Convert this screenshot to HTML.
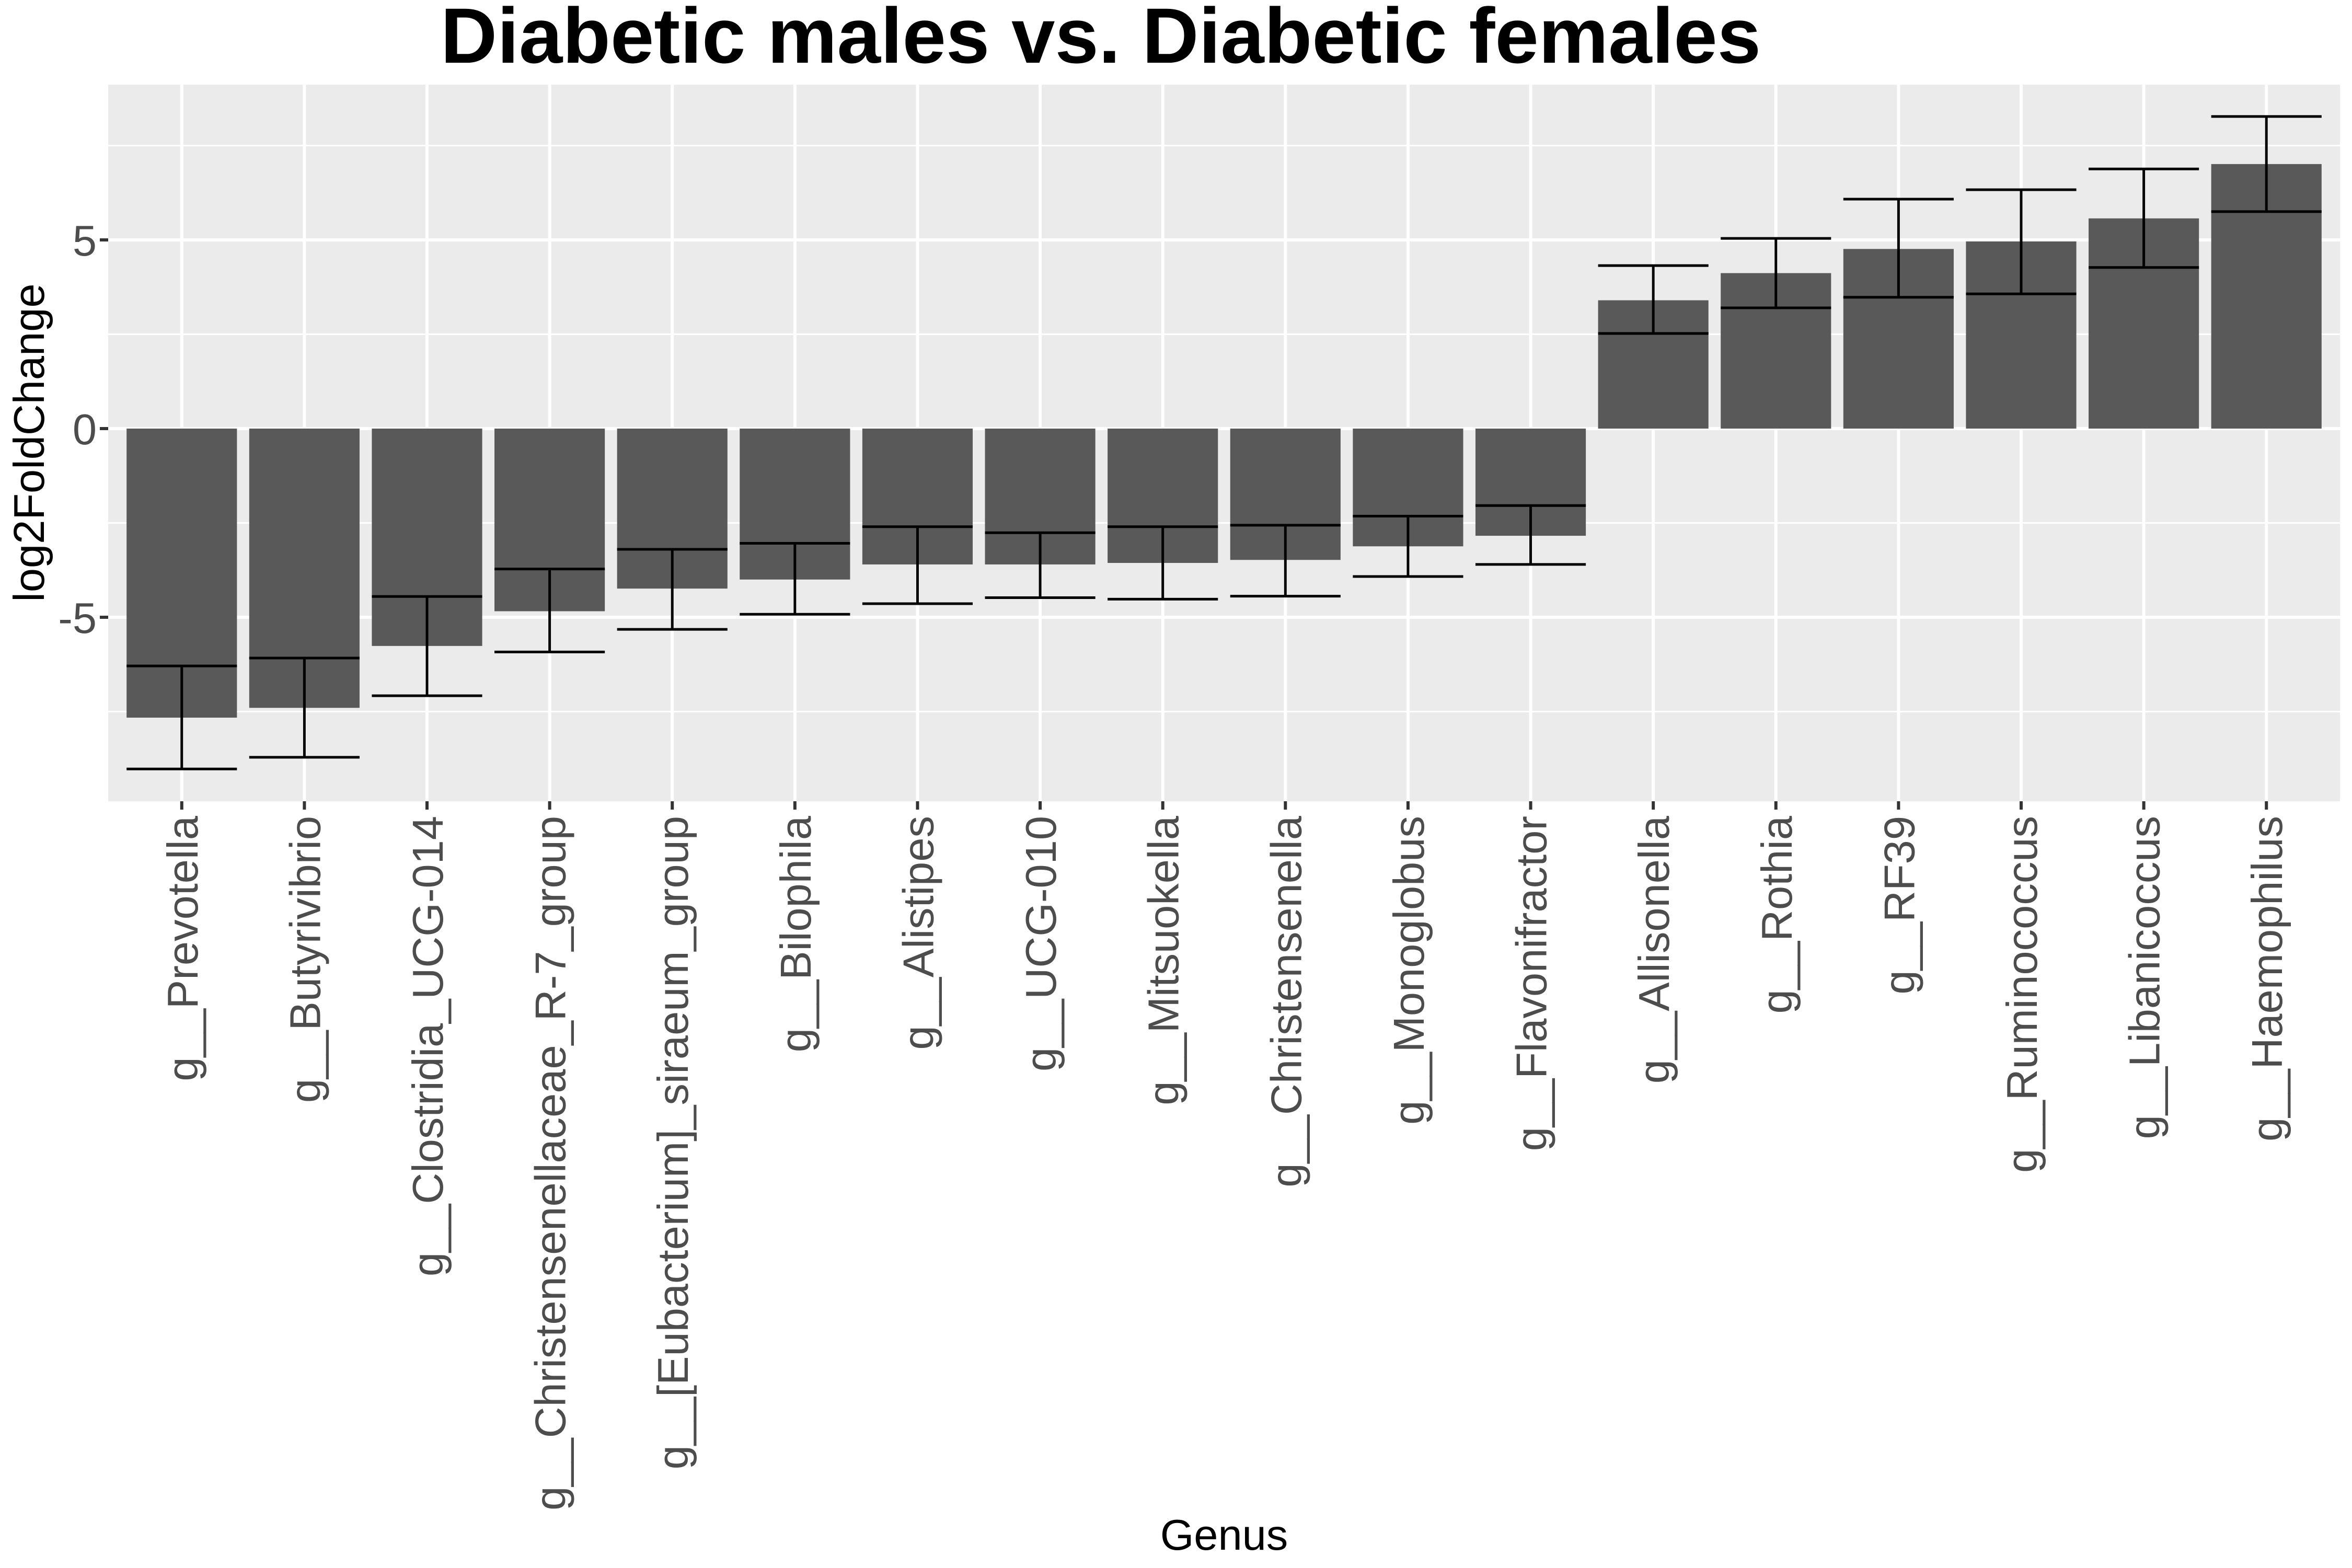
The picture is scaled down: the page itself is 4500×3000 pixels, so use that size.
<!DOCTYPE html>
<html><head><meta charset="utf-8"><style>
html,body{margin:0;padding:0;background:#fff;}
svg{display:block;font-family:"Liberation Sans",Arial,sans-serif;}
</style></head><body>
<svg id="chart" width="4500" height="3000" viewBox="0 0 4500 3000" xmlns="http://www.w3.org/2000/svg">
<text x="2106" y="120" text-anchor="middle" font-size="150" font-weight="bold" fill="#000">Diabetic males vs. Diabetic females</text>
<rect x="207" y="162" width="4270" height="1371" fill="#ebebeb"/>
<g id="grid"></g>
<g id="bars"></g>
<g id="errs"></g>
<g id="yaxis"></g>
<g id="xaxis"></g>
<text transform="translate(84,847) rotate(-90)" text-anchor="middle" font-size="83" fill="#000">log2FoldChange</text>
<text x="2342" y="2965" text-anchor="middle" font-size="83" fill="#000">Genus</text>
</svg>
<script>
const categories = ["g__Prevotella","g__Butyrivibrio","g__Clostridia_UCG-014","g__Christensenellaceae_R-7_group","g__[Eubacterium]_siraeum_group","g__Bilophila","g__Alistipes","g__UCG-010","g__Mitsuokella","g__Christensenella","g__Monoglobus","g__Flavonifractor","g__Allisonella","g__Rothia","g__RF39","g__Ruminococcus","g__Libanicoccus","g__Haemophilus"];
const values = [-7.66,-7.40,-5.76,-4.84,-4.24,-4.0,-3.6,-3.6,-3.56,-3.48,-3.12,-2.84,3.4,4.12,4.76,4.96,5.57,7.01];
const errUpper = [-6.29,-6.08,-4.45,-3.72,-3.2,-3.04,-2.6,-2.76,-2.6,-2.56,-2.32,-2.04,4.32,5.04,6.08,6.33,6.88,8.27];
const errLower = [-9.02,-8.71,-7.08,-5.92,-5.32,-4.92,-4.64,-4.48,-4.52,-4.44,-3.92,-3.6,2.52,3.2,3.48,3.57,4.27,5.75];
const yMajor = [-5,0,5];
const yMinor = [-7.5,-2.5,2.5,7.5];
const yTickLabels = ["-5","0","5"];

const NS="http://www.w3.org/2000/svg";
const PL=207, PR=4477, PT=162, PB=1533;
const Y0=820, PPU=72.2;
const y = v => Y0 - v*PPU;
const step = (PR-PL)/(categories.length-1+1.2);
const x = i => PL + step*0.6 + i*step;
const bw = step*0.9;
function mk(tag, parent, attrs){const e=document.createElementNS(NS,tag);for(const k in attrs)e.setAttribute(k,attrs[k]);parent.appendChild(e);return e;}
const grid=document.getElementById('grid'), bars=document.getElementById('bars'), errs=document.getElementById('errs'), ya=document.getElementById('yaxis'), xa=document.getElementById('xaxis');
yMinor.forEach(v=>{const l=mk('line',grid,{x1:PL,x2:PR,y1:y(v),y2:y(v),stroke:'#fff','stroke-width':3});

});
yMajor.forEach((v,i)=>{const l=mk('line',grid,{x1:PL,x2:PR,y1:y(v),y2:y(v),stroke:'#fff','stroke-width':6});


const t=mk('line',ya,{x1:PL-16,x2:PL,y1:y(v),y2:y(v),stroke:'#333','stroke-width':6});


const tx=mk('text',ya,{x:PL-22,y:y(v)+30,'text-anchor':'end','font-size':83,fill:'#4d4d4d'});tx.textContent=yTickLabels[i];

});
categories.forEach((c,i)=>{
const cx=x(i);
const g=mk('line',grid,{x1:cx,x2:cx,y1:PT,y2:PB,stroke:'#fff','stroke-width':6});


const v=values[i];
const r=mk('rect',bars,{x:cx-bw/2,width:bw,y:Math.min(y(0),y(v)),height:Math.abs(y(v)-y(0)),fill:'#595959'});


const eg=mk('g',errs,{stroke:'#000','stroke-width':5});


mk('line',eg,{x1:cx,x2:cx,y1:y(errUpper[i]),y2:y(errLower[i])});
mk('line',eg,{x1:cx-bw/2,x2:cx+bw/2,y1:y(errUpper[i]),y2:y(errUpper[i])});
mk('line',eg,{x1:cx-bw/2,x2:cx+bw/2,y1:y(errLower[i]),y2:y(errLower[i])});
const t=mk('line',xa,{x1:cx,x2:cx,y1:PB,y2:PB+16,stroke:'#333','stroke-width':6});


const tx=mk('text',xa,{transform:`translate(${cx+30},${PB+28}) rotate(-90)`,'text-anchor':'end','font-size':83,fill:'#4d4d4d'});tx.textContent=c;


});
</script>
</body></html>
